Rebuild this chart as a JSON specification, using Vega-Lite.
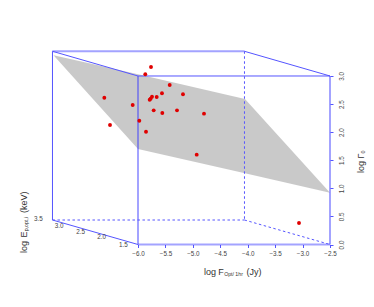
{
"$schema":"https://vega.github.io/schema/vega-lite/v6.json",
"width":374,"height":307,"padding":0,"autosize":{"type":"none"},
"background":"white",
"config":{"view":{"stroke":null},"font":"Liberation Sans"},
"datasets":{
"plane":[{"fopt":-7.54,"gamma_lo":3.37,"gamma_hi":3.37},{"fopt":-6.0,"gamma_lo":1.70,"gamma_hi":3.03},{"fopt":-4.05,"gamma_lo":1.27,"gamma_hi":2.59},{"fopt":-2.5,"gamma_lo":0.92,"gamma_hi":0.92}],
"box":[
{"edge":"backleft","fopt":-7.559,"gamma":3.44},{"edge":"backleft","fopt":-7.559,"gamma":0.436},
{"edge":"diagtl","fopt":-7.559,"gamma":3.44},{"edge":"diagtl","fopt":-6,"gamma":3.0},
{"edge":"diagtr","fopt":-4.059,"gamma":3.44},{"edge":"diagtr","fopt":-2.5,"gamma":3.0},
{"edge":"fronttop","fopt":-6,"gamma":3.0},{"edge":"fronttop","fopt":-2.5,"gamma":3.0},
{"edge":"diagbl","fopt":-7.559,"gamma":0.436},{"edge":"diagbl","fopt":-6,"gamma":0}
],
"thick":[
{"edge":"backtop","fopt":-7.559,"gamma":3.44},{"edge":"backtop","fopt":-4.059,"gamma":3.44},
{"edge":"frontleft","fopt":-6,"gamma":3.0},{"edge":"frontleft","fopt":-6,"gamma":0},
{"edge":"frontbottom","fopt":-6,"gamma":0},{"edge":"frontbottom","fopt":-2.5,"gamma":0},
{"edge":"frontright","fopt":-2.5,"gamma":3.0},{"edge":"frontright","fopt":-2.5,"gamma":0}
],
"dashed":[
{"edge":"backright","fopt":-4.059,"gamma":3.44},{"edge":"backright","fopt":-4.059,"gamma":0.436},
{"edge":"backbottom","fopt":-7.559,"gamma":0.436},{"edge":"backbottom","fopt":-4.059,"gamma":0.436},
{"edge":"diagbr","fopt":-4.059,"gamma":0.436},{"edge":"diagbr","fopt":-2.5,"gamma":0}
],
"grbs":[
{"fopt":-5.763,"gamma":3.16},{"fopt":-5.867,"gamma":3.03},{"fopt":-5.422,"gamma":2.84},{"fopt":-5.18,"gamma":2.674},
{"fopt":-5.563,"gamma":2.692},{"fopt":-5.659,"gamma":2.626},{"fopt":-5.745,"gamma":2.631},{"fopt":-5.77,"gamma":2.596},{"fopt":-5.787,"gamma":2.578},
{"fopt":-6.614,"gamma":2.613},{"fopt":-6.097,"gamma":2.483},{"fopt":-5.714,"gamma":2.389},{"fopt":-5.557,"gamma":2.341},{"fopt":-5.289,"gamma":2.389},
{"fopt":-4.797,"gamma":2.329},{"fopt":-5.976,"gamma":2.204},{"fopt":-6.51,"gamma":2.127},{"fopt":-5.854,"gamma":2.008},{"fopt":-4.93,"gamma":1.599},{"fopt":-3.065,"gamma":0.383}
],
"depth":[
{"label":"3.5","fopt":-7.817,"gamma":0.449},{"label":"3.0","fopt":-7.44,"gamma":0.338},{"label":"2.5","fopt":-7.044,"gamma":0.228},{"label":"2.0","fopt":-6.662,"gamma":0.125},{"label":"1.5","fopt":-6.268,"gamma":-0.004}
],
"xtitle":[
{"label":"log","style":"normal","size":9,"fopt":-4.797,"gamma":-0.484},
{"label":"F","style":"italic","size":9,"fopt":-4.536,"gamma":-0.484},
{"label":"Opt/ 1hr","style":"normal","size":5.2,"fopt":-4.43,"gamma":-0.52},
{"label":"(Jy)","style":"normal","size":9,"fopt":-4.02,"gamma":-0.484}
],
"ztitle":[
{"label":"log","style":"normal","size":9,"fopt":-8.07,"gamma":-0.151},
{"label":"E","style":"italic","size":9,"fopt":-8.07,"gamma":0.125},
{"label":"p,opt,i","style":"normal","size":5.2,"fopt":-8.035,"gamma":0.235},
{"label":"(keV)","style":"normal","size":9,"fopt":-8.07,"gamma":0.56}
],
"gtitle":[
{"label":"log Γ","size":9,"fopt":-1.93,"gamma":1.273},
{"label":"0","size":5.5,"fopt":-1.90,"gamma":1.62}
]
},
"layer":[
{"data":{"name":"plane"},"mark":{"type":"area","color":"#888888","opacity":0.45,"interpolate":"linear"},
 "encoding":{
  "x":{"field":"fopt","type":"quantitative","scale":{"domain":[-8.5155,-1.698],"nice":false,"zero":false},
   "axis":{"orient":"bottom","offset":-62.5,"values":[-6,-5.5,-5,-4.5,-4,-3.5,-3,-2.5],"format":".1f","domain":false,"grid":false,"tickColor":"#5555ff","tickSize":3,"labelFontSize":6.3,"labelColor":"#444444","labelPadding":3,"title":null}},
  "y":{"field":"gamma_hi","type":"quantitative","scale":{"domain":[-1.1127,4.353],"nice":false,"zero":false},
   "axis":{"orient":"right","offset":-44,"values":[0,0.5,1,1.5,2,2.5,3],"format":".1f","domain":false,"grid":false,"tickColor":"#5555ff","tickSize":3,"labelFontSize":6.3,"labelColor":"#444444","labelAngle":-90,"labelAlign":"center","labelBaseline":"middle","labelPadding":8,"title":null}},
  "y2":{"field":"gamma_lo"}
 }},
{"data":{"name":"thick"},"mark":{"type":"line","color":"#3333ff","opacity":0.45,"strokeWidth":2},
 "encoding":{"x":{"field":"fopt","type":"quantitative"},"y":{"field":"gamma","type":"quantitative"},"detail":{"field":"edge"}}},
{"data":{"name":"box"},"mark":{"type":"line","color":"#5555ff","strokeWidth":1},
 "encoding":{"x":{"field":"fopt","type":"quantitative"},"y":{"field":"gamma","type":"quantitative"},"detail":{"field":"edge"}}},
{"data":{"name":"dashed"},"mark":{"type":"line","color":"#5555ff","strokeWidth":1,"strokeDash":[2.5,2.5]},
 "encoding":{"x":{"field":"fopt","type":"quantitative"},"y":{"field":"gamma","type":"quantitative"},"detail":{"field":"edge"}}},
{"data":{"name":"grbs"},"mark":{"type":"point","filled":true,"color":"#e00000","opacity":1,"size":15},
 "encoding":{"x":{"field":"fopt","type":"quantitative"},"y":{"field":"gamma","type":"quantitative"}}},
{"data":{"name":"depth"},"mark":{"type":"text","fontSize":6.3,"color":"#444444","align":"center","baseline":"middle"},
 "encoding":{"x":{"field":"fopt","type":"quantitative"},"y":{"field":"gamma","type":"quantitative"},"text":{"field":"label"}}},
{"data":{"name":"xtitle"},"mark":{"type":"text","color":"#333333","align":"left","baseline":"middle"},
 "encoding":{"x":{"field":"fopt","type":"quantitative"},"y":{"field":"gamma","type":"quantitative"},"text":{"field":"label"},"fontStyle":{"field":"style","scale":null},"size":{"field":"size","scale":null}}},
{"data":{"name":"ztitle"},"mark":{"type":"text","color":"#333333","align":"left","baseline":"middle","angle":270},
 "encoding":{"x":{"field":"fopt","type":"quantitative"},"y":{"field":"gamma","type":"quantitative"},"text":{"field":"label"},"fontStyle":{"field":"style","scale":null},"size":{"field":"size","scale":null}}},
{"data":{"name":"gtitle"},"mark":{"type":"text","color":"#333333","align":"left","baseline":"middle","angle":270},
 "encoding":{"x":{"field":"fopt","type":"quantitative"},"y":{"field":"gamma","type":"quantitative"},"text":{"field":"label"},"size":{"field":"size","scale":null}}}
]
}
